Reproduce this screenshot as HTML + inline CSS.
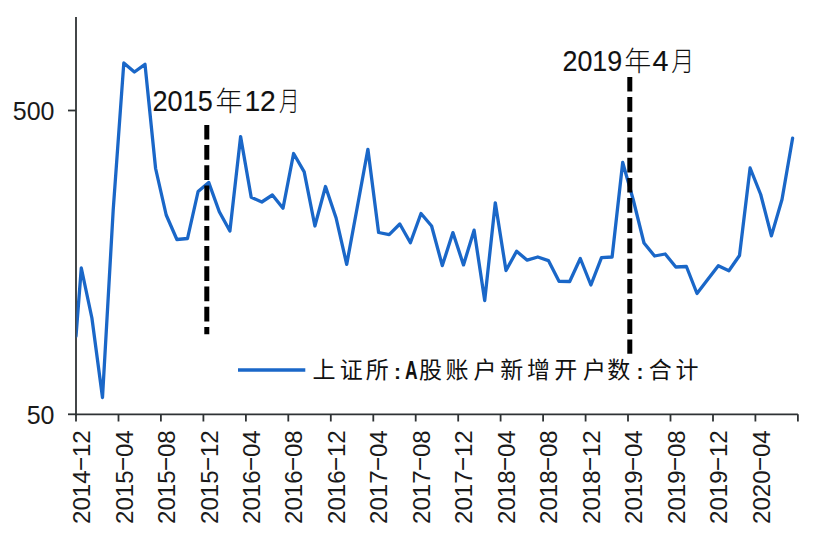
<!DOCTYPE html>
<html><head><meta charset="utf-8">
<style>
html,body{margin:0;padding:0;background:#fff;}
svg{display:block;}
.lat{font-family:"Liberation Sans",Arial,sans-serif;}
.cjk{font-family:"Noto Sans CJK SC","Liberation Sans",sans-serif;}
</style></head><body>
<svg width="826" height="544" viewBox="0 0 826 544">
<rect width="826" height="544" fill="#fff"/>
<g stroke="#2e3234" stroke-width="1.8" fill="none">
<line x1="76" y1="17" x2="76" y2="415.2"/>
<line x1="75.1" y1="414.3" x2="797.9" y2="414.3"/>
<line x1="68" y1="110.5" x2="76" y2="110.5"/>
<line x1="68" y1="414.3" x2="76" y2="414.3"/>
<line x1="76.0" y1="414.3" x2="76.0" y2="421.5"/><line x1="118.5" y1="414.3" x2="118.5" y2="421.5"/><line x1="160.9" y1="414.3" x2="160.9" y2="421.5"/><line x1="203.4" y1="414.3" x2="203.4" y2="421.5"/><line x1="245.9" y1="414.3" x2="245.9" y2="421.5"/><line x1="288.3" y1="414.3" x2="288.3" y2="421.5"/><line x1="330.8" y1="414.3" x2="330.8" y2="421.5"/><line x1="373.3" y1="414.3" x2="373.3" y2="421.5"/><line x1="415.7" y1="414.3" x2="415.7" y2="421.5"/><line x1="458.2" y1="414.3" x2="458.2" y2="421.5"/><line x1="500.6" y1="414.3" x2="500.6" y2="421.5"/><line x1="543.1" y1="414.3" x2="543.1" y2="421.5"/><line x1="585.6" y1="414.3" x2="585.6" y2="421.5"/><line x1="628.0" y1="414.3" x2="628.0" y2="421.5"/><line x1="670.5" y1="414.3" x2="670.5" y2="421.5"/><line x1="713.0" y1="414.3" x2="713.0" y2="421.5"/><line x1="755.4" y1="414.3" x2="755.4" y2="421.5"/><line x1="797.9" y1="414.3" x2="797.9" y2="421.5"/>
</g>
<g class="lat" font-size="25" fill="#1a1a1a" text-anchor="end">
<text x="54.5" y="120.3">500</text>
<text x="54.5" y="424">50</text>
</g>
<g class="lat" font-size="24" fill="#1a1a1a">
<text transform="translate(90.1,430.4) rotate(-90)" text-anchor="end">2014<tspan dx="-1.4" dy="-3.4" textLength="16.2" lengthAdjust="spacingAndGlyphs">-</tspan><tspan dx="-1.4" dy="3.4">12</tspan></text><text transform="translate(132.6,430.4) rotate(-90)" text-anchor="end">2015<tspan dx="-1.4" dy="-3.4" textLength="16.2" lengthAdjust="spacingAndGlyphs">-</tspan><tspan dx="-1.4" dy="3.4">04</tspan></text><text transform="translate(175.0,430.4) rotate(-90)" text-anchor="end">2015<tspan dx="-1.4" dy="-3.4" textLength="16.2" lengthAdjust="spacingAndGlyphs">-</tspan><tspan dx="-1.4" dy="3.4">08</tspan></text><text transform="translate(217.5,430.4) rotate(-90)" text-anchor="end">2015<tspan dx="-1.4" dy="-3.4" textLength="16.2" lengthAdjust="spacingAndGlyphs">-</tspan><tspan dx="-1.4" dy="3.4">12</tspan></text><text transform="translate(260.0,430.4) rotate(-90)" text-anchor="end">2016<tspan dx="-1.4" dy="-3.4" textLength="16.2" lengthAdjust="spacingAndGlyphs">-</tspan><tspan dx="-1.4" dy="3.4">04</tspan></text><text transform="translate(302.4,430.4) rotate(-90)" text-anchor="end">2016<tspan dx="-1.4" dy="-3.4" textLength="16.2" lengthAdjust="spacingAndGlyphs">-</tspan><tspan dx="-1.4" dy="3.4">08</tspan></text><text transform="translate(344.9,430.4) rotate(-90)" text-anchor="end">2016<tspan dx="-1.4" dy="-3.4" textLength="16.2" lengthAdjust="spacingAndGlyphs">-</tspan><tspan dx="-1.4" dy="3.4">12</tspan></text><text transform="translate(387.4,430.4) rotate(-90)" text-anchor="end">2017<tspan dx="-1.4" dy="-3.4" textLength="16.2" lengthAdjust="spacingAndGlyphs">-</tspan><tspan dx="-1.4" dy="3.4">04</tspan></text><text transform="translate(429.8,430.4) rotate(-90)" text-anchor="end">2017<tspan dx="-1.4" dy="-3.4" textLength="16.2" lengthAdjust="spacingAndGlyphs">-</tspan><tspan dx="-1.4" dy="3.4">08</tspan></text><text transform="translate(472.3,430.4) rotate(-90)" text-anchor="end">2017<tspan dx="-1.4" dy="-3.4" textLength="16.2" lengthAdjust="spacingAndGlyphs">-</tspan><tspan dx="-1.4" dy="3.4">12</tspan></text><text transform="translate(514.8,430.4) rotate(-90)" text-anchor="end">2018<tspan dx="-1.4" dy="-3.4" textLength="16.2" lengthAdjust="spacingAndGlyphs">-</tspan><tspan dx="-1.4" dy="3.4">04</tspan></text><text transform="translate(557.2,430.4) rotate(-90)" text-anchor="end">2018<tspan dx="-1.4" dy="-3.4" textLength="16.2" lengthAdjust="spacingAndGlyphs">-</tspan><tspan dx="-1.4" dy="3.4">08</tspan></text><text transform="translate(599.7,430.4) rotate(-90)" text-anchor="end">2018<tspan dx="-1.4" dy="-3.4" textLength="16.2" lengthAdjust="spacingAndGlyphs">-</tspan><tspan dx="-1.4" dy="3.4">12</tspan></text><text transform="translate(642.1,430.4) rotate(-90)" text-anchor="end">2019<tspan dx="-1.4" dy="-3.4" textLength="16.2" lengthAdjust="spacingAndGlyphs">-</tspan><tspan dx="-1.4" dy="3.4">04</tspan></text><text transform="translate(684.6,430.4) rotate(-90)" text-anchor="end">2019<tspan dx="-1.4" dy="-3.4" textLength="16.2" lengthAdjust="spacingAndGlyphs">-</tspan><tspan dx="-1.4" dy="3.4">08</tspan></text><text transform="translate(727.1,430.4) rotate(-90)" text-anchor="end">2019<tspan dx="-1.4" dy="-3.4" textLength="16.2" lengthAdjust="spacingAndGlyphs">-</tspan><tspan dx="-1.4" dy="3.4">12</tspan></text><text transform="translate(769.5,430.4) rotate(-90)" text-anchor="end">2020<tspan dx="-1.4" dy="-3.4" textLength="16.2" lengthAdjust="spacingAndGlyphs">-</tspan><tspan dx="-1.4" dy="3.4">04</tspan></text>
</g>

<defs><clipPath id="pa"><rect x="76.5" y="0" width="740" height="414"/></clipPath></defs>
<polyline clip-path="url(#pa)" points="76.0,336.0 81.3,268.0 91.9,318.0 102.5,397.5 113.2,210.0 123.8,63.0 134.4,72.0 145.0,64.3 155.6,168.5 166.2,215.0 176.9,239.5 187.5,238.5 198.1,191.5 208.7,182.4 219.3,211.7 229.9,231.0 240.6,136.6 251.2,197.3 261.8,202.0 272.4,195.0 283.0,208.3 293.6,153.5 304.2,171.9 314.9,226.0 325.5,186.5 336.1,218.0 346.7,264.4 357.3,207.0 367.9,149.3 378.6,232.5 389.2,234.7 399.8,224.0 410.4,242.7 421.0,213.5 431.6,226.0 442.3,265.6 452.9,232.6 463.5,264.9 474.1,230.2 484.7,300.5 495.3,202.8 506.0,270.5 516.6,251.3 527.2,260.2 537.8,257.0 548.4,260.6 559.0,281.3 569.7,281.5 580.3,258.5 590.9,285.0 601.5,257.6 612.1,257.0 622.7,162.5 633.3,200.0 644.0,243.0 654.6,256.0 665.2,254.0 675.8,267.0 686.4,266.5 697.0,293.5 707.7,279.6 718.3,265.7 728.9,270.7 739.5,255.5 750.1,168.0 760.7,194.5 771.4,235.9 782.0,199.5 792.6,138.2" fill="none" stroke="#1a67c8" stroke-width="3.3" stroke-linejoin="round" stroke-linecap="round"/>
<g stroke="#000" stroke-width="5" stroke-dasharray="14.7 5.5" fill="none">
<line x1="206.8" y1="124.9" x2="206.8" y2="334.2"/>
<line x1="629.8" y1="76.9" x2="629.8" y2="353.8"/>
</g>
<g font-size="27" fill="#111" stroke="#111" stroke-width="0.12">
<text y="110.9"><tspan class="lat" font-size="28.8" x="152.6" textLength="60.1" lengthAdjust="spacingAndGlyphs">2015</tspan><tspan class="cjk" stroke="none" x="215.5" font-weight="300">年</tspan><tspan class="lat" font-size="28.8" x="244.4" textLength="31.4" lengthAdjust="spacingAndGlyphs">12</tspan><tspan class="cjk" stroke="none" x="278.9" font-weight="300" textLength="20.5" lengthAdjust="spacingAndGlyphs">月</tspan></text>
<text y="70.8"><tspan class="lat" font-size="28.8" x="562.5" textLength="59.7" lengthAdjust="spacingAndGlyphs">2019</tspan><tspan class="cjk" stroke="none" x="624.3" font-weight="300">年</tspan><tspan class="lat" font-size="28.8" x="652.5" textLength="16" lengthAdjust="spacingAndGlyphs">4</tspan><tspan class="cjk" stroke="none" x="671.2" font-weight="300" textLength="23" lengthAdjust="spacingAndGlyphs">月</tspan></text>
</g>
<line x1="238" y1="370" x2="305.3" y2="370" stroke="#1a67c8" stroke-width="3.3"/>
<text fill="#111"><tspan class="cjk" font-size="23" y="377.8" x="312.5 339.8 365.7">上证所</tspan><tspan class="lat" font-size="21" font-weight="bold" y="379.2" x="394.1">:</tspan><tspan class="lat" font-size="25" font-weight="bold" y="379.3" x="405.0" textLength="12.6" lengthAdjust="spacingAndGlyphs">A</tspan><tspan class="cjk" font-size="23" y="377.8" x="419.0 445.6 473.5 500.3 527.0 554.2 583.0 607.3">股账户新增开户数</tspan><tspan class="lat" font-size="21" font-weight="bold" y="379.2" x="636.4">:</tspan><tspan class="cjk" font-size="23" y="377.8" x="648.7 675.6">合计</tspan></text>
</svg>
</body></html>
